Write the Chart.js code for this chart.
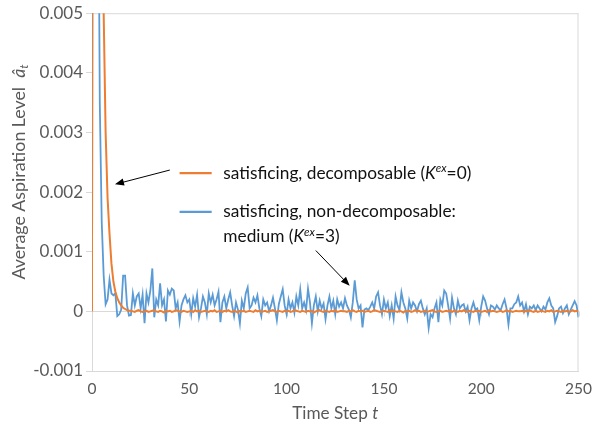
<!DOCTYPE html>
<html><head><meta charset="utf-8">
<script src="https://cdn.jsdelivr.net/npm/chart.js@4"></script>
<style>html,body{margin:0;padding:0;background:#fff}#wrap{width:593px;height:434px}</style>
</head><body><div id="wrap"><canvas id="c" width="593" height="434"></canvas></div>
<script>
// ---- data ----
const timeSteps = Array.from({length: 251}, (_, i) => i);
const xTicks = [0, 50, 100, 150, 200, 250];
const yTicks = [-0.001, 0, 0.001, 0.002, 0.003, 0.004, 0.005];
const seriesNames = ['satisficing, decomposable', 'satisficing, non-decomposable: medium'];

const orangeValues = [
  0, 0.06, 0.035, 0.02, 0.012, 0.0078, 0.005, 0.003, 0.0019, 0.0013,
  0.0008, 0.0005, 0.00033, 0.00022, 0.00015, 0.0001, 0.00006, 0.00004, 0.00002, 0.00001,
  1e-5, 0, -1e-5, 1e-5, 2e-5, 0, -1e-5, 0, 1e-5, -1e-5,
  0, 1e-5, 2e-5, 0, -1e-5, 1e-5, 0, -2e-5, 1e-5, 0,
  1e-5, -1e-5, 0, 2e-5, 1e-5, 0, -1e-5, 1e-5, 0, -1e-5,
  0, 1e-5, -1e-5, 2e-5, 0, 1e-5, -1e-5, 0, 1e-5, 0,
  -1e-5, 1e-5, 0, 2e-5, -1e-5, 0, 1e-5, -1e-5, 1e-5, 0,
  2e-5, 0, -1e-5, 1e-5, 0, -2e-5, 1e-5, 0, 1e-5, -1e-5,
  0, 1e-5, 0, -1e-5, 2e-5, 0, 1e-5, -1e-5, 0, 1e-5,
  -1e-5, 0, 1e-5, 2e-5, 0, -1e-5, 1e-5, 0, -1e-5, 1e-5,
  0, 1e-5, -1e-5, 0, 2e-5, 1e-5, 0, -1e-5, 1e-5, 0,
  -1e-5, 1e-5, 0, 1e-5, -2e-5, 0, 1e-5, 2e-5, 0, -1e-5,
  1e-5, 0, -1e-5, 1e-5, 0, 2e-5, -1e-5, 0, 1e-5, 0,
  0, -1e-5, 1e-5, 0, 2e-5, 0, -1e-5, 1e-5, 0, 1e-5,
  -1e-5, 0, 1e-5, -1e-5, 0, 2e-5, 1e-5, 0, -1e-5, 0,
  1e-5, 0, -1e-5, 2e-5, 0, 1e-5, 0, -1e-5, 1e-5, 0,
  -2e-5, 1e-5, 0, 1e-5, -1e-5, 0, 2e-5, 0, 1e-5, -1e-5,
  0, 1e-5, -1e-5, 0, 1e-5, 2e-5, 0, -1e-5, 0, 1e-5,
  -1e-5, 0, 1e-5, 0, 2e-5, -1e-5, 1e-5, 0, -1e-5, 1e-5,
  0, 2e-5, 0, -1e-5, 1e-5, 0, -1e-5, 1e-5, 0, 1e-5,
  -1e-5, 0, 1e-5, -1e-5, 2e-5, 0, 1e-5, 0, -1e-5, 0,
  1e-5, -1e-5, 0, 2e-5, 0, 1e-5, -1e-5, 0, 1e-5, 0,
  0, 1e-5, -1e-5, 1e-5, 0, 2e-5, 0, -1e-5, 1e-5, -1e-5,
  0, 1e-5, 0, -1e-5, 1e-5, 0, 2e-5, -1e-5, 0, 1e-5,
  0, -1e-5, 1e-5, 0, 1e-5, -1e-5, 0, 2e-5, 0, 1e-5,
  0
];

const blueValues = [
  0, 0.02, 0.015, 0.009, 0.0035, 0.0015, 6e-4, 1.2e-4, 2.0e-4, 5.3e-4,
  3.0e-4, 2.7e-4, 3.0e-4, -0.8e-4, -0.5e-4, 0.3e-4, 6.0e-4, 6.0e-4, 1.0e-4, -0.7e-4,
  -0.6e-4, 3.0e-4, 1.0e-4, 2.5e-4, 3.0e-4, 0.5e-4, 2.8e-4, -2.0e-4, 3.0e-4, 1.5e-4,
  3.5e-4, 7.2e-4, -1.0e-4, 2.0e-4, 1.0e-4, 4.7e-4, 1.0e-4, 2.0e-4, -1.7e-4, 3.5e-4,
  2.8e-4, 3.8e-4, 3.5e-4, 0.5e-4, 1.5e-4, -1.7e-4, 1.0e-4, 2.0e-4, 2.7e-4, 1.5e-4,
  2.0e-4, -0.5e-4, 2.2e-4, 0.8e-4, 2.8e-4, -1.0e-4, 0.5e-4, 2.5e-4, 1.5e-4, -0.5e-4,
  3.0e-4, 1.5e-4, 2.8e-4, 1.0e-4, 2.0e-4, 3.3e-4, -1.8e-4, 1.5e-4, 2.5e-4, 0.5e-4,
  2.0e-4, 3.2e-4, 1.0e-4, -0.8e-4, 1.5e-4, 0.3e-4, -2.0e-4, 1.8e-4, 0.5e-4, 3.0e-4,
  4.0e-4, 0.5e-4, 1.0e-4, 2.3e-4, 1.5e-4, 2.7e-4, 0.5e-4, -0.8e-4, 2.0e-4, 1.0e-4,
  1.5e-4, 0, 1.0e-4, 2.3e-4, 0.5e-4, -1.5e-4, 1.2e-4, 2.5e-4, 3.7e-4, 1.0e-4,
  -0.5e-4, 2.0e-4, 0.5e-4, 1.5e-4, -0.2e-4, 2.5e-4, 1.0e-4, 3.7e-4, 0.5e-4, 1.5e-4,
  0.2e-4, 3.8e-4, 1.5e-4, -2.0e-4, 1.0e-4, 2.5e-4, 0, 1.8e-4, 0.5e-4, 1.3e-4,
  -1.3e-4, 1.0e-4, 2.5e-4, 0.5e-4, 1.8e-4, -0.5e-4, 2.0e-4, 0.8e-4, 1.5e-4, 0.5e-4,
  2.2e-4, 1.0e-4, 0.3e-4, -1.0e-4, 1.5e-4, 5.2e-4, 2.0e-4, 0.5e-4, 1.0e-4, -2.7e-4,
  0.3e-4, 0.5e-4, 0.2e-4, 0.8e-4, 1.5e-4, 0.5e-4, 2.5e-4, 3.2e-4, 1.0e-4, -0.5e-4,
  2.0e-4, 0.5e-4, 1.5e-4, -0.8e-4, 1.0e-4, -1.2e-4, 2.5e-4, 1.0e-4, 0.2e-4, 3.2e-4,
  1.5e-4, 0.5e-4, -1.2e-4, 1.8e-4, 0.5e-4, 1.5e-4, 1.0e-4, 0, 1.2e-4, 1.8e-4,
  0.5e-4, -0.5e-4, 0.5e-4, -2.8e-4, -0.5e-4, -1.0e-4, 0.5e-4, 1.5e-4, -1.8e-4, 2.0e-4,
  1.0e-4, 3.5e-4, 3.0e-4, 1.0e-4, -1.2e-4, 2.3e-4, 0.5e-4, -0.5e-4, 1.8e-4, 0.5e-4,
  1.0e-4, 1.2e-4, 0, 0.8e-4, -1.5e-4, 0.5e-4, 1.5e-4, 0.3e-4, 0.5e-4, -1.5e-4,
  0.8e-4, 2.5e-4, 1.8e-4, 0.5e-4, -0.5e-4, 1.0e-4, 0.8e-4, 0.3e-4, 1.0e-4, 0.5e-4,
  0.2e-4, 1.2e-4, 2.0e-4, 0.5e-4, -2.2e-4, 0.5e-4, 0.5e-4, 1.2e-4, 1.5e-4, 2.5e-4,
  1.0e-4, 1.5e-4, 0, 1.2e-4, -0.5e-4, 0.8e-4, 0.5e-4, 1.0e-4, 0.2e-4, 1.0e-4,
  0.5e-4, 0, 0.8e-4, 0.3e-4, 1.5e-4, 2.2e-4, 1.0e-4, 0.5e-4, -1.8e-4, -0.8e-4,
  0.5e-4, 0.8e-4, -0.3e-4, 0.5e-4, 1.0e-4, -0.5e-4, 0.3e-4, 1.0e-4, 1.7e-4, 1.0e-4,
  -1.0e-4
];

// ---- styling / annotation placement (in data units) ----
const ORANGE = '#ED7D31', BLUE = '#5B9BD5', GRIDC = '#D9D9D9', TXT = '#595959';
const FONT = 'Lato';
const LEG = 17.3, LEGSUP = 11.5, XT = 17.2, YT = 17.8;
const legendCfg = {
  lineX0: 45, lineX1: 61.5, textX: 67.5,
  row1Y: 0.00232, row2Y: 0.00167, row3Y: 0.00125
};
const arrowsCfg = [
  {x0: 40, y0: 0.00237, x1: 11.8, y1: 0.00213},
  {x0: 115, y0: 0.00102, x1: 132.4, y1: 0.00043}
];

function drawRich(ctx, x, y, parts, align) {
  let total = 0;
  for (const p of parts) { ctx.font = (p.italic ? 'italic ' : '') + p.size + 'px ' + FONT; total += ctx.measureText(p.text).width; }
  let cx = align === 'center' ? x - total / 2 : x;
  for (const p of parts) {
    ctx.font = (p.italic ? 'italic ' : '') + p.size + 'px ' + FONT;
    ctx.fillText(p.text, cx, y + (p.dy || 0));
    cx += ctx.measureText(p.text).width;
  }
}
function drawArrow(ctx, x0, y0, x1, y1) {
  const a = Math.atan2(y1 - y0, x1 - x0), L = 9, W = 3.6;
  ctx.beginPath(); ctx.moveTo(x0, y0); ctx.lineTo(x1 - L * 0.8 * Math.cos(a), y1 - L * 0.8 * Math.sin(a)); ctx.stroke();
  ctx.beginPath();
  ctx.moveTo(x1, y1);
  ctx.lineTo(x1 - L * Math.cos(a) + W * Math.sin(a), y1 - L * Math.sin(a) - W * Math.cos(a));
  ctx.lineTo(x1 - L * Math.cos(a) - W * Math.sin(a), y1 - L * Math.sin(a) + W * Math.cos(a));
  ctx.closePath(); ctx.fill();
}

const framePlugin = {
  id: 'frame',
  beforeDatasetsDraw(chart) {
    const {ctx, chartArea: a, scales: {x, y}} = chart;
    ctx.save();
    ctx.strokeStyle = GRIDC; ctx.lineWidth = 1;
    ctx.beginPath();
    ctx.moveTo(a.left, a.top + 0.5); ctx.lineTo(a.right, a.top + 0.5);
    ctx.moveTo(a.right - 0.5, a.top); ctx.lineTo(a.right - 0.5, a.bottom);
    const y0 = Math.round(y.getPixelForValue(0)) + 0.5;
    ctx.moveTo(a.left, y0); ctx.lineTo(a.right, y0);
    for (const t of xTicks) {
      const px = Math.round(x.getPixelForValue(t)) + 0.5;
      ctx.moveTo(px, y0); ctx.lineTo(px, y0 + 5);
    }
    ctx.stroke();
    ctx.restore();
  },
  afterDraw(chart) {
    const {ctx, chartArea: a, scales: {x, y}} = chart;
    ctx.save();
    // legend
    ctx.lineWidth = 2.25;
    ctx.strokeStyle = ORANGE;
    ctx.beginPath(); ctx.moveTo(x.getPixelForValue(legendCfg.lineX0), y.getPixelForValue(legendCfg.row1Y));
    ctx.lineTo(x.getPixelForValue(legendCfg.lineX1), y.getPixelForValue(legendCfg.row1Y)); ctx.stroke();
    ctx.strokeStyle = BLUE;
    ctx.beginPath(); ctx.moveTo(x.getPixelForValue(legendCfg.lineX0), y.getPixelForValue(legendCfg.row2Y));
    ctx.lineTo(x.getPixelForValue(legendCfg.lineX1), y.getPixelForValue(legendCfg.row2Y)); ctx.stroke();
    ctx.fillStyle = '#111'; ctx.textBaseline = 'middle'; ctx.textAlign = 'left';
    const tx = x.getPixelForValue(legendCfg.textX);
    drawRich(ctx, tx, y.getPixelForValue(legendCfg.row1Y), [
      {text: 'satisficing, decomposable (', size: LEG}, {text: 'K', size: LEG, italic: true},
      {text: 'ex', size: LEGSUP, italic: true, dy: -5}, {text: '=0)', size: LEG}]);
    drawRich(ctx, tx, y.getPixelForValue(legendCfg.row2Y), [{text: 'satisficing, non-decomposable:', size: LEG}]);
    drawRich(ctx, tx, y.getPixelForValue(legendCfg.row3Y), [
      {text: 'medium (', size: LEG}, {text: 'K', size: LEG, italic: true},
      {text: 'ex', size: LEGSUP, italic: true, dy: -5}, {text: '=3)', size: LEG}]);
    // arrows
    ctx.strokeStyle = '#000'; ctx.fillStyle = '#000'; ctx.lineWidth = 1;
    for (const ar of arrowsCfg) {
      drawArrow(ctx, x.getPixelForValue(ar.x0), y.getPixelForValue(ar.y0), x.getPixelForValue(ar.x1), y.getPixelForValue(ar.y1));
    }
    // axis titles
    ctx.fillStyle = TXT; ctx.textBaseline = 'middle';
    drawRich(ctx, (a.left + a.right) / 2, 413, [{text: 'Time Step ', size: XT}, {text: 't', size: XT, italic: true}], 'center');
    ctx.translate(19, 172);
    ctx.rotate(-Math.PI / 2);
    drawRich(ctx, 0, 0, [{text: 'Average Aspiration Level  ', size: YT}, {text: '\u00e2', size: YT, italic: true},
      {text: 't', size: YT * 0.68, italic: true, dy: 5}], 'center');
    ctx.restore();
  }
};

function fmtY(v) { const r = Math.round(v * 1000) / 1000; return r === 0 ? '0' : r.toFixed(3); }

document.fonts.load('16px Lato').then(() => document.fonts.load('italic 16px Lato')).finally(() => {
  Chart.defaults.font.family = FONT;
  new Chart(document.getElementById('c'), {
    type: 'line',
    data: {
      datasets: [
        {label: seriesNames[0], data: timeSteps.map((t, i) => ({x: t, y: orangeValues[i]})),
         borderColor: ORANGE, borderWidth: 2, pointRadius: 0, tension: 0, order: 0},
        {label: seriesNames[1], data: timeSteps.map((t, i) => ({x: t, y: blueValues[i]})),
         borderColor: BLUE, borderWidth: 1.8, pointRadius: 0, tension: 0, order: 1}
      ]
    },
    options: {
      responsive: false, animation: false,
      layout: {padding: {left: 0, right: 4, top: 11, bottom: 0}},
      plugins: {legend: {display: false}, tooltip: {enabled: false}},
      scales: {
        x: {
          type: 'linear', min: 0, max: 250,
          afterBuildTicks: s => { s.ticks = xTicks.map(v => ({value: v})); },
          afterFit: s => { s.height = 63; },
          grid: {display: false},
          border: {display: true, color: GRIDC},
          ticks: {color: TXT, font: {size: 15.5}, padding: 1, maxRotation: 0}
        },
        y: {
          min: -0.001, max: 0.005,
          afterBuildTicks: s => { s.ticks = yTicks.map(v => ({value: v})); },
          afterFit: s => { s.width = 92; },
          grid: {drawOnChartArea: false, drawTicks: true, tickLength: 6, color: GRIDC},
          border: {display: true, color: GRIDC},
          ticks: {color: TXT, font: {size: 17}, padding: 3, callback: v => fmtY(v)}
        }
      }
    },
    plugins: [framePlugin]
  });
});
</script>
</body></html>
